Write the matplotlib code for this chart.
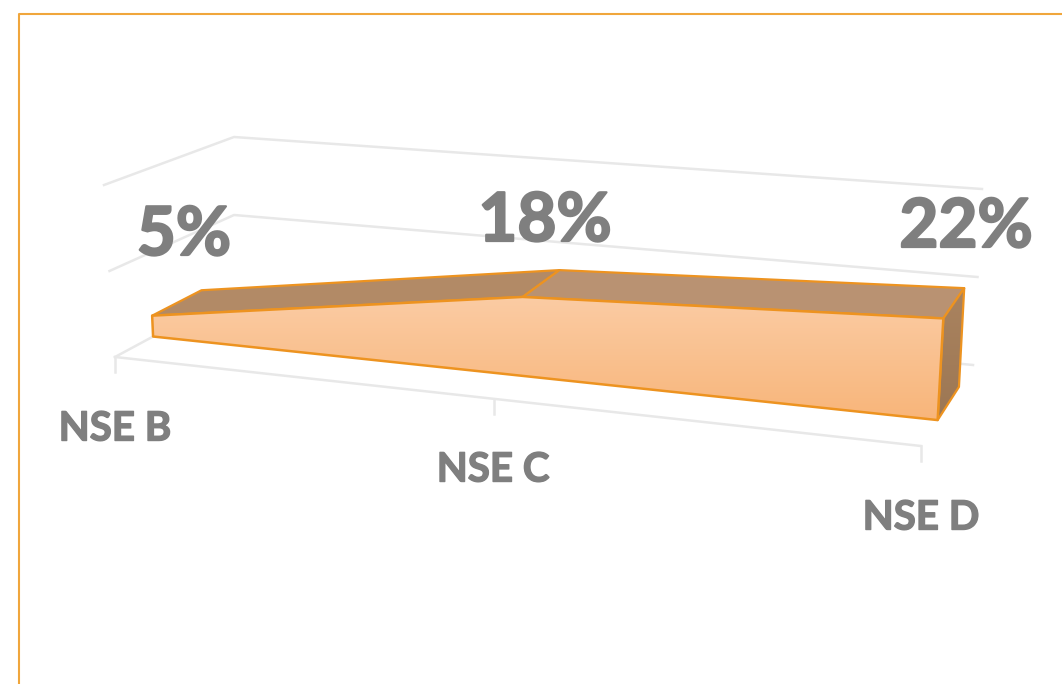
import matplotlib
matplotlib.use('Agg')
import matplotlib.pyplot as plt
import matplotlib.patheffects as pe
from matplotlib.patches import Polygon
import numpy as np

categories = ['NSE B', 'NSE C', 'NSE D']
values = [5, 18, 22]
grid_values = [0, 20, 40]

# corners of the 3D box in pixels: (cat, value, depth) -> screen
box = {
    (0, 0, 0): (115, 357), (1, 0, 0): (921, 446),
    (0, 0, 1): (234, 293), (1, 0, 1): (973, 365),
    (0, 1, 0): (104, 185), (1, 1, 0): (932, 257),
    (0, 1, 1): (234, 137), (1, 1, 1): (982, 189),
}
vmax = 40.0
persp = 1.125
d_front = 0.32
d_back = 0.73

gray = '#7f7f7f'
grid_col = '#e8e8e8'
orange = '#ed9320'


def proj(i, val, depth):
    # i is the category position 0..n-1
    s = i / (len(categories) - 1)
    u = s / (s + persp * (1 - s)) if s > 0 else 0.0
    v = val / vmax
    p = np.zeros(2)
    for a in (0, 1):
        for b in (0, 1):
            for c in (0, 1):
                w = (u if a else 1 - u) * (v if b else 1 - v) * (depth if c else 1 - depth)
                p += w * np.array(box[(a, b, c)])
    return p


fig = plt.figure(figsize=(10.62, 6.84), dpi=100)
ax = fig.add_axes([0, 0, 1, 1])
ax.set_xlim(0, 1062)
ax.set_ylim(684, 0)
ax.axis('off')

# chart frame
last = len(categories) - 1
ax.plot([19, 19, 1062], [684, 14, 14], color='#f0a63c', lw=1.5, zorder=1)

# walls and floor lines
for g in grid_values:
    pts = np.array([proj(0, g, 0), proj(0, g, 1), proj(last, g, 1)])
    ax.plot(pts[:, 0], pts[:, 1], color=grid_col, lw=1.8, zorder=1)
pts = np.array([proj(0, 0, 0), proj(last, 0, 0)])
ax.plot(pts[:, 0], pts[:, 1], color=grid_col, lw=1.8, zorder=1)
for i in range(len(categories)):
    x, y = proj(i, 0, 0)
    ax.plot([x, x], [y, y + 15], color=grid_col, lw=1.8, zorder=1)

# top faces
for i in range(last):
    quad = [proj(i, values[i], d_front), proj(i, values[i], d_back),
            proj(i + 1, values[i + 1], d_back), proj(i + 1, values[i + 1], d_front)]
    col = '#b28a66' if i == 0 else '#b99272'
    ax.add_patch(Polygon(quad, closed=True, fc=col, ec=orange, lw=1.6, joinstyle='round', zorder=3))

# right end face
quad = [proj(last, values[last], d_front), proj(last, values[last], d_back),
        proj(last, 0, d_back), proj(last, 0, d_front)]
grad_r = np.linspace(0, 1, 256).reshape(-1, 1)
im = ax.imshow(grad_r, cmap=matplotlib.colors.LinearSegmentedColormap.from_list('r', ['#ab8460', '#9a7552']),
               extent=[900, 1000, 440, 280], aspect='auto', zorder=3)
clip = Polygon(quad, closed=True, transform=ax.transData, fc='none', ec='none')
ax.add_patch(clip)
im.set_clip_path(clip)
ax.add_patch(Polygon(quad, closed=True, fc='none', ec=orange, lw=1.6, joinstyle='round', zorder=4))

# front face with gradient
front = [proj(i, values[i], d_front) for i in range(len(categories))]
front += [proj(i, 0, d_front) for i in range(last, -1, -1)]
grad = np.linspace(0, 1, 256).reshape(-1, 1)
im2 = ax.imshow(grad, cmap=matplotlib.colors.LinearSegmentedColormap.from_list('f', ['#fbcda6', '#f8b478']),
                extent=[140, 950, 425, 290], aspect='auto', zorder=4)
clip2 = Polygon(front, closed=True, transform=ax.transData, fc='none', ec='none')
ax.add_patch(clip2)
im2.set_clip_path(clip2)
ax.add_patch(Polygon(front, closed=True, fc='none', ec=orange, lw=1.8, joinstyle='round', zorder=5))
ax.set_xlim(0, 1062)
ax.set_ylim(684, 0)

# text, Lato bold with a thin outline to get closer to the heavier original
label_xy = [(184, 236), (545, 222), (966, 228)]
for val, (x, y) in zip(values, label_xy):
    ax.text(x, y, f'{val}%', fontsize=48.5, fontweight='bold', color=gray, family='Lato',
            ha='center', va='center', zorder=6,
            path_effects=[pe.withStroke(linewidth=1.6, foreground=gray)])
cat_xy = [(115, 429), (493, 470), (921, 518)]
for name, (x, y) in zip(categories, cat_xy):
    ax.text(x, y, name, fontsize=29, fontweight='bold', color=gray, family='Lato',
            ha='center', va='center', zorder=6,
            path_effects=[pe.withStroke(linewidth=1.0, foreground=gray)])

fig.savefig('out.png', dpi=100)
